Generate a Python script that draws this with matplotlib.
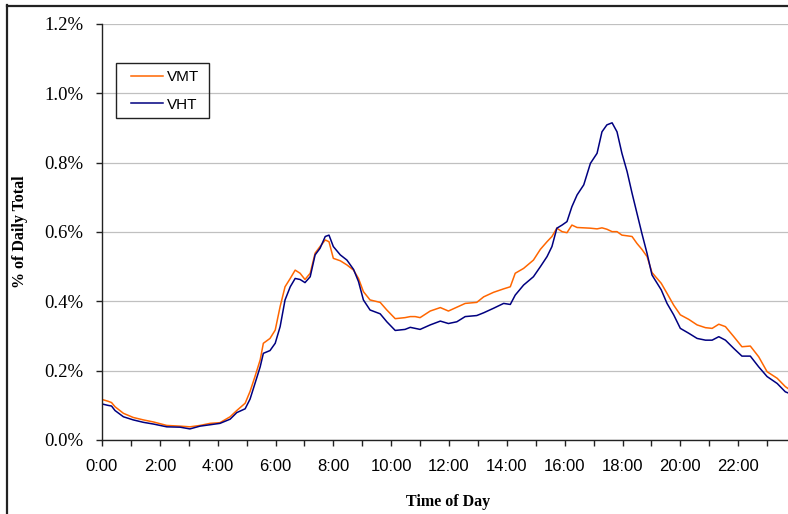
import numpy as np
import matplotlib
matplotlib.use('Agg')
import matplotlib.pyplot as plt
from matplotlib.patches import Rectangle
from matplotlib.lines import Line2D
from matplotlib.ticker import FuncFormatter, MultipleLocator

#data (hour of day, % of daily total)
hours = [0.00, 0.20, 0.33, 0.45, 0.74, 1.08, 1.43, 1.78, 2.24, 2.70,
         3.04, 3.39, 3.74, 4.08, 4.43, 4.66, 4.95, 5.12, 5.29, 5.47,
         5.58, 5.81, 5.99, 6.16, 6.33, 6.51, 6.68, 6.85, 7.02, 7.20,
         7.37, 7.54, 7.72, 7.85, 8.00, 8.24, 8.47, 8.70, 8.87, 9.04,
         9.27, 9.62, 9.85, 10.14, 10.48, 10.66, 10.83, 11.00, 11.35, 11.70,
         11.98, 12.27, 12.56, 12.96, 13.20, 13.54, 13.89, 14.12, 14.29, 14.58,
         14.92, 15.16, 15.39, 15.56, 15.73, 15.91, 16.08, 16.25, 16.43, 16.66,
         16.89, 17.12, 17.29, 17.46, 17.64, 17.81, 17.98, 18.16, 18.33, 18.50,
         18.67, 18.85, 19.02, 19.34, 19.54, 19.77, 20.00, 20.29, 20.58, 20.87,
         21.10, 21.33, 21.56, 21.85, 22.13, 22.42, 22.71, 23.00, 23.35, 23.63,
         23.75]

vmt = [0.117, 0.112, 0.108, 0.096, 0.077, 0.065, 0.058, 0.052, 0.042, 0.040,
       0.038, 0.042, 0.048, 0.050, 0.067, 0.085, 0.106, 0.140, 0.183, 0.231,
       0.279, 0.293, 0.317, 0.385, 0.442, 0.466, 0.490, 0.481, 0.463, 0.481,
       0.539, 0.558, 0.577, 0.572, 0.524, 0.517, 0.505, 0.490, 0.466, 0.428,
       0.404, 0.397, 0.375, 0.350, 0.353, 0.356, 0.356, 0.353, 0.372, 0.382,
       0.372, 0.383, 0.394, 0.397, 0.413, 0.426, 0.436, 0.442, 0.481, 0.495,
       0.519, 0.550, 0.572, 0.587, 0.611, 0.601, 0.598, 0.620, 0.613, 0.612,
       0.611, 0.609, 0.612, 0.608, 0.601, 0.601, 0.591, 0.589, 0.587, 0.567,
       0.550, 0.529, 0.483, 0.452, 0.423, 0.389, 0.361, 0.348, 0.332, 0.324,
       0.322, 0.334, 0.327, 0.298, 0.269, 0.271, 0.240, 0.197, 0.178, 0.154,
       0.147]

vht = [0.104, 0.100, 0.098, 0.085, 0.067, 0.058, 0.051, 0.046, 0.038, 0.037,
       0.032, 0.040, 0.044, 0.048, 0.060, 0.079, 0.090, 0.118, 0.163, 0.211,
       0.250, 0.258, 0.279, 0.327, 0.404, 0.442, 0.466, 0.463, 0.454, 0.471,
       0.534, 0.553, 0.587, 0.591, 0.558, 0.534, 0.519, 0.492, 0.457, 0.404,
       0.375, 0.364, 0.341, 0.316, 0.319, 0.325, 0.322, 0.319, 0.332, 0.343,
       0.336, 0.341, 0.356, 0.359, 0.367, 0.380, 0.394, 0.391, 0.418, 0.447,
       0.471, 0.500, 0.529, 0.558, 0.611, 0.620, 0.630, 0.673, 0.707, 0.736,
       0.798, 0.827, 0.889, 0.909, 0.915, 0.889, 0.827, 0.774, 0.712, 0.654,
       0.596, 0.538, 0.476, 0.433, 0.394, 0.361, 0.322, 0.308, 0.293, 0.288,
       0.288, 0.298, 0.288, 0.264, 0.242, 0.242, 0.211, 0.183, 0.163, 0.139,
       0.135]

xtick_labels = ['0:00', '2:00', '4:00', '6:00', '8:00', '10:00', '12:00',
                '14:00', '16:00', '18:00', '20:00', '22:00']

W, H = 788, 514

#figure
fig = plt.figure(figsize=(W/100, H/100), dpi=100)
#axes run past the right edge, the source image is cropped there
ax = fig.add_axes([102/W, 1-440/H, 694/W, 416/H])

ax.plot(hours, vmt, color='#FF6600', lw=1.1, label='VMT')
ax.plot(hours, vht, color='#000080', lw=1.1, label='VHT')

ax.set_xlim(0, 24)
ax.set_ylim(0, 1.2)

#grid and spines
ax.yaxis.set_major_locator(MultipleLocator(0.2))
ax.grid(axis='y', color='#C0C0C0', lw=0.9)
ax.set_axisbelow(True)
for s in ['top', 'right']:
    ax.spines[s].set_visible(False)
for s in ['left', 'bottom']:
    ax.spines[s].set_color('#222222')
    ax.spines[s].set_linewidth(1.0)

#ticks
ax.set_xticks(np.arange(0, 24, 2))
ax.set_xticks(np.arange(1, 24, 2), minor=True)
ax.set_xticklabels(xtick_labels, family='Liberation Sans', fontsize=12)
ax.tick_params(axis='x', which='both', direction='out', length=4.5, width=1.0,
               color='#222222', pad=9)
ax.yaxis.set_major_formatter(FuncFormatter(lambda v, p: '{:.1f}%'.format(v)))
ax.tick_params(axis='y', direction='out', length=4.5, width=1.0,
               color='#222222', pad=9, labelsize=13.5)
for lbl in ax.get_yticklabels():
    lbl.set_family('Liberation Serif')

#axis titles
fig.text(448/W, 1-502/H, 'Time of Day', ha='center', va='center',
         family='Liberation Serif', fontweight='bold', fontsize=11.5)
fig.text(20/W, 1-232/H, '% of Daily Total', ha='center', va='center',
         rotation=90, family='Liberation Serif', fontweight='bold', fontsize=11.5)

#legend (frame drawn separately so the box can be wider than the content)
leg = ax.legend(loc='upper left', bbox_to_anchor=((132-102)/694 - 0.001, (440-70)/416),
                borderaxespad=0, frameon=False, borderpad=0,
                prop={'family': 'Liberation Sans', 'size': 11},
                handlelength=2.05, handletextpad=0.3, labelspacing=0.9)
fig.patches.append(Rectangle((116/W, 1-118/H), 93/W, 55/H, transform=fig.transFigure,
                             fill=False, edgecolor='#222222', lw=1.0, zorder=5))

#outer frame of the chart area (only left and top edges fall inside the image)
fig.add_artist(Line2D([7/W, 7/W], [0, 1-5/H], transform=fig.transFigure,
                      color='#222222', lw=1.6))
fig.add_artist(Line2D([7/W, 1], [1-5.5/H, 1-5.5/H], transform=fig.transFigure,
                      color='#222222', lw=1.6))

fig.savefig('out.png', dpi=100)
